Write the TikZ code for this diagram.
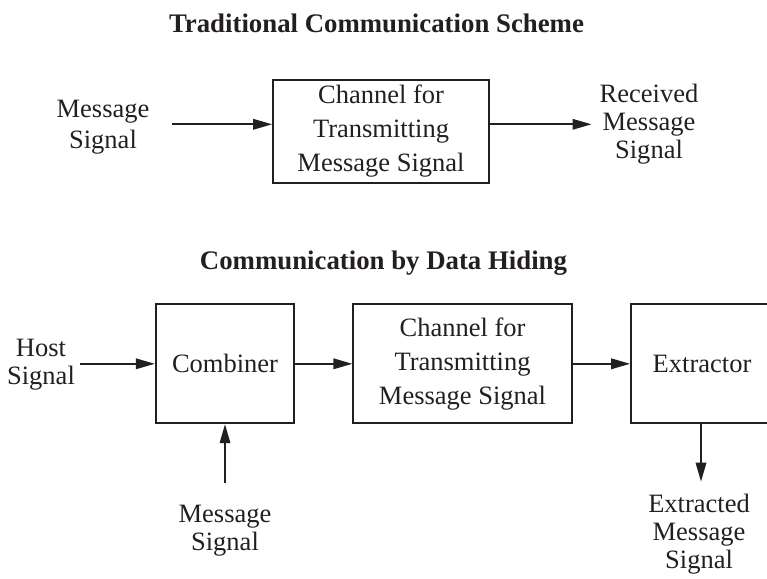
\documentclass[tikz,border=0pt]{standalone}
\usepackage{fontspec}
\setmainfont{Liberation Serif}
\usetikzlibrary{arrows.meta,calc}
\definecolor{ink}{RGB}{35,31,32}

\tikzset{
  blk/.style={draw=ink, line width=1.8pt, minimum height=119pt, inner sep=0pt,
              align=center, text=ink, font=\fontsize{26.5}{34}\selectfont},
  lbl/.style={inner sep=0pt, align=center, text=ink, font=\fontsize{26.5}{28}\selectfont},
  ttl/.style={inner sep=0pt, text=ink, font=\fontsize{26.8}{30}\selectfont\bfseries},
  arr/.style={draw=ink, line width=1.8pt, -{Triangle[length=19pt,width=10.5pt]}}
}

\begin{document}
\begin{tikzpicture}[x=1pt,y=-1pt]
  \useasboundingbox (0,0) rectangle (767,578);
  \clip (0,0) rectangle (767,578);

  % upper scheme
  \node[ttl, anchor=base] (t1) at (376.5,33) {Traditional Communication Scheme};
  \node[lbl, font=\fontsize{26.5}{31}\selectfont] (msg1) at (103,127.5) {Message\\Signal};
  \node[blk, minimum width=216pt, minimum height=103pt] (ch1) at (381,131.5)
       {Channel for\\Transmitting\\Message Signal};
  \node[lbl] (rcv) at (649,123.7) {Received\\Message\\Signal};

  \coordinate (a1) at ($(msg1.east)+(22,-3.2)$);
  \draw[arr] (a1) -- (a1 -| ch1.west);
  \draw[arr] (a1 -| ch1.east) -- ($(a1 -| rcv.west)+(-8,0)$);

  % lower scheme
  \node[ttl, anchor=base] (t2) at (383.5,269) {Communication by Data Hiding};
  \node[lbl] (host) at (41,365) {Host\\Signal};
  \node[blk, minimum width=138.6pt] (comb) at (225,363.8) {Combiner};
  \node[blk, minimum width=218.4pt] (ch2) at (462.5,363.8) {Channel for\\Transmitting\\Message Signal};
  \node[blk, minimum width=142pt] (ext) at (702,363.5) {Extractor};
  \node[lbl] (msg2) at (225,530.6) {Message\\Signal};
  \node[lbl] (extr) at (699,533.9) {Extracted\\Message\\Signal};

  \draw[arr] ($(host.east |- comb.west)+(5,0)$) -- (comb.west);
  \draw[arr] (comb.east) -- (ch2.west);
  \draw[arr] (ch2.east) -- (ch2.east -| ext.west);
  \draw[arr] ($(msg2.north)+(0,-22)$) -- (msg2.north |- comb.south);
  \draw[arr] ($(ext.south)+(-1,0)$) -- ($(ext.south |- extr.north)+(-1,-12)$);
\end{tikzpicture}
\end{document}
